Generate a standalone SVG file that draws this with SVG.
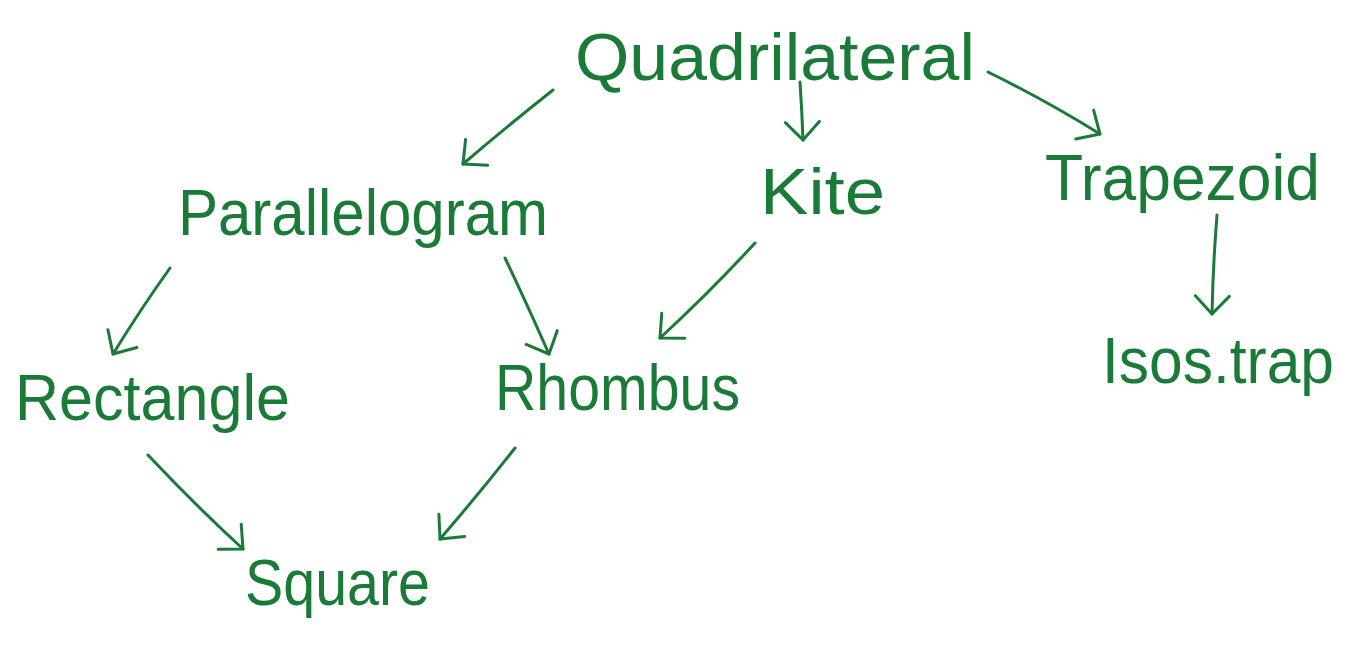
<svg xmlns="http://www.w3.org/2000/svg" width="1348" height="656" viewBox="0 0 1348 656">
<style>
.lbl{font-family:"Liberation Sans","Noto Sans",sans-serif;fill:#1a7a37;}
.c path{fill:none;stroke:#1a7a37;stroke-width:3;stroke-linecap:round;stroke-linejoin:round;}
</style>
<defs>
<marker id="v" viewBox="-22 -22 26 44" refX="0" refY="0" markerWidth="26" markerHeight="44" markerUnits="userSpaceOnUse" orient="auto">
<path d="M-18,-17 L0,0 L-18,17" fill="none" stroke="#1a7a37" stroke-width="3" stroke-linecap="round" stroke-linejoin="round"/>
</marker>
</defs>
<rect width="1348" height="656" fill="#ffffff"/>
<g class="c" id="connectors">
<path d="M553,90 Q505,128 463,164" marker-end="url(#v)"/>
<path d="M800,82 Q802,112 803,140" marker-end="url(#v)"/>
<path d="M988,72 Q1045,100 1100,134" marker-end="url(#v)"/>
<path d="M1217,215 Q1213,265 1212,314" marker-end="url(#v)"/>
<path d="M170,268 Q140,310 113,354" marker-end="url(#v)"/>
<path d="M505,258 Q525,300 549,354" marker-end="url(#v)"/>
<path d="M755,243 Q710,292 660,338" marker-end="url(#v)"/>
<path d="M148,455 Q195,505 243,549" marker-end="url(#v)"/>
<path d="M515,448 Q478,495 440,539" marker-end="url(#v)"/>
</g>
<g id="quadrilateral"><text class="lbl" x="575" y="80" font-size="66" textLength="400" lengthAdjust="spacingAndGlyphs">Quadrilateral</text></g>
<g id="parallelogram"><text class="lbl" x="178" y="235" font-size="64" textLength="370" lengthAdjust="spacingAndGlyphs">Parallelogram</text></g>
<g id="kite"><text class="lbl" x="760" y="214" font-size="64" textLength="125" lengthAdjust="spacingAndGlyphs">Kite</text></g>
<g id="trapezoid"><text class="lbl" x="1045" y="200" font-size="64" textLength="275" lengthAdjust="spacingAndGlyphs">Trapezoid</text></g>
<g id="isos"><text class="lbl" x="1102" y="383" font-size="64" textLength="232" lengthAdjust="spacingAndGlyphs">Isos.trap</text></g>
<g id="rectangle"><text class="lbl" x="15" y="420" font-size="64" textLength="275" lengthAdjust="spacingAndGlyphs">Rectangle</text></g>
<g id="rhombus"><text class="lbl" x="495" y="410" font-size="64" textLength="245" lengthAdjust="spacingAndGlyphs">Rhombus</text></g>
<g id="square"><text class="lbl" x="245" y="605" font-size="64" textLength="185" lengthAdjust="spacingAndGlyphs">Square</text></g>
</svg>
